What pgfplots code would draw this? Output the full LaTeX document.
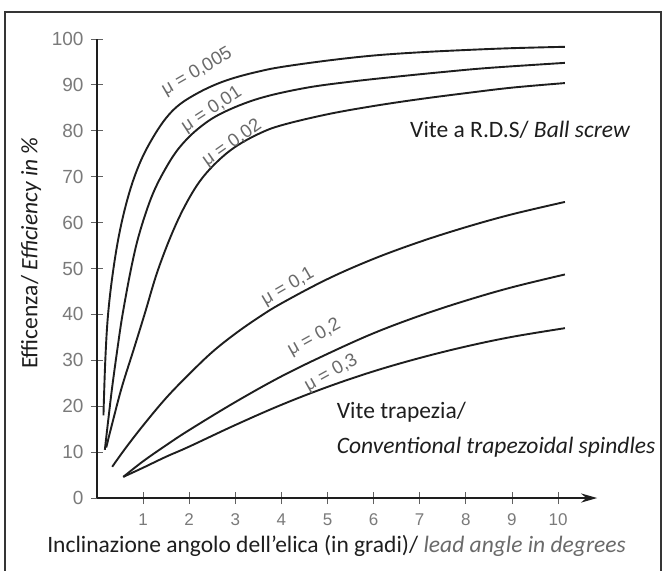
\documentclass[border=0pt]{standalone}
\usepackage{pgfplots}
\pgfplotsset{compat=1.18}
\usepackage{fontspec}
\setmainfont{Carlito}
\newfontfamily\tickfont{Liberation Sans}
\usetikzlibrary{arrows.meta}
\definecolor{tickgray}{HTML}{7A7A7A}
\definecolor{lblgray}{HTML}{6A6A6A}
\definecolor{ink}{HTML}{1E1E1E}
\pgfplotsset{curve/.style={ink, line width=1.9pt, smooth, tension=0.6, mark=none}}

\begin{document}
\begin{tikzpicture}[x=1pt,y=1pt]
\useasboundingbox (-97,-72) rectangle (566,498);
\fill[white] (-97,-72) rectangle (566,498);
\draw[line width=2.2pt, ink!90] (-92,-80) -- (-92,486) -- (564,486) -- (564,-80);
\begin{axis}[
  at={(0,0)}, anchor=origin,
  x=46.1pt, y=4.59pt,
  xmin=0, xmax=10.85, ymin=0, ymax=100,
  clip=false,
  axis x line*=bottom, axis y line*=left,
  x axis line style={line width=2.4pt, ink, -{Stealth[length=16pt,width=9pt]}},
  y axis line style={line width=2.4pt, ink},
  xtick={1,2,...,10}, ytick={0,10,...,100},
  tick align=center, major tick length=12pt,
  tick style={line width=0.8pt, ink!70},
  /pgf/number format/assume math mode=true,
  xticklabel style={font=\tickfont\fontsize{17}{17}\selectfont, text=tickgray, yshift=-6pt},
  yticklabel style={font=\tickfont\fontsize{19}{19}\selectfont, text=tickgray, xshift=-4pt},
]
% mu = 0.005
\addplot[curve] coordinates {(0.14,18) (0.18,30) (0.24,40) (0.35,49.5) (0.5,58.4) (0.7,66.5) (0.93,73) (1.2,78.3) (1.5,82.8) (1.8,85.8) (2.2,88.3) (2.6,90.2) (3,91.6) (3.5,92.9) (4,93.9) (5,95.3) (6,96.4) (7,97.1) (8,97.6) (9,98) (10.15,98.3)};
% mu = 0.01
\addplot[curve] coordinates {(0.17,10.5) (0.25,17.5) (0.33,24.2) (0.45,33) (0.56,40.3) (0.75,50.5) (0.93,58) (1.2,66) (1.5,72) (1.8,76.5) (2.2,80.5) (2.7,83.8) (3.5,87) (4.5,89.3) (5.5,90.7) (6.5,91.8) (7.5,92.8) (8.5,93.7) (10.15,94.8)};
% mu = 0.02
\addplot[curve] coordinates {(0.2,11) (0.35,17) (0.54,24.2) (0.8,32.5) (1.04,40.3) (1.3,49) (1.6,57) (1.9,63.5) (2.23,69) (2.6,73.2) (3.0,76.5) (3.5,79.3) (4,81.2) (5,83.6) (6,85.4) (7,86.9) (8,88.2) (9,89.4) (10.15,90.4)};
% mu = 0.1
\addplot[curve] coordinates {(0.33,6.8) (0.6,10.6) (1.0,15.8) (1.5,21.8) (2,27) (2.5,31.8) (3,35.8) (3.5,39.3) (4,42.4) (5,47.7) (6,52.1) (7,55.8) (8,59) (9,61.8) (10.15,64.5)};
% mu = 0.2
\addplot[curve] coordinates {(0.57,4.6) (1,8) (1.5,11.5) (2,14.8) (3,20.9) (4,26.5) (5,31.4) (6,35.9) (7,39.7) (8,43) (9,45.9) (10.15,48.7)};
% mu = 0.3
\addplot[curve] coordinates {(0.57,4.6) (1,6.6) (1.5,9) (2,11.2) (3,15.9) (4,20.3) (5,24.2) (6,27.6) (7,30.5) (8,33) (9,35.1) (10.15,37)};

\begin{scope}[every node/.style={font=\tickfont\fontsize{18.5}{18.5}\selectfont, text=lblgray, inner sep=0pt}]
\node[rotate=30] at (axis cs:2.17,92.8) {μ = 0,005};
\node[rotate=33] at (axis cs:2.49,84.6) {μ = 0,01};
\node[rotate=35] at (axis cs:2.93,77.3) {μ = 0,02};
\node[rotate=30] at (axis cs:4.14,46.0) {μ = 0,1};
\node[rotate=29] at (axis cs:4.71,34.9) {μ = 0,2};
\node[rotate=29] at (axis cs:5.08,27.2) {μ = 0,3};
\end{scope}

\node[anchor=west, font=\fontsize{23.5}{23.5}\selectfont, text=ink, inner sep=0pt] at (axis cs:6.79,80.2) {Vite a R.D.S/ \textit{Ball screw}};
\node[anchor=west, font=\fontsize{23.5}{23.5}\selectfont, text=ink, inner sep=0pt] at (axis cs:5.2,18.7) {Vite trapezia/};
\node[anchor=west, font=\fontsize{23.5}{23.5}\selectfont, text=ink, inner sep=0pt] at (axis cs:5.2,11.1) {\textit{Conventional trapezoidal spindles}};
\end{axis}

\node[font=\fontsize{23.5}{23.5}\selectfont, text=ink, inner sep=0pt] at (239.5,-48) {Inclinazione angolo dell’elica (in gradi)/ \textcolor{lblgray}{\textit{lead angle in degrees}}};
\node[rotate=90, font=\fontsize{23.5}{23.5}\selectfont, text=ink, inner sep=0pt] at (-66,245) {Efficenza/ \textit{Efficiency in \%}};
\end{tikzpicture}
\end{document}
